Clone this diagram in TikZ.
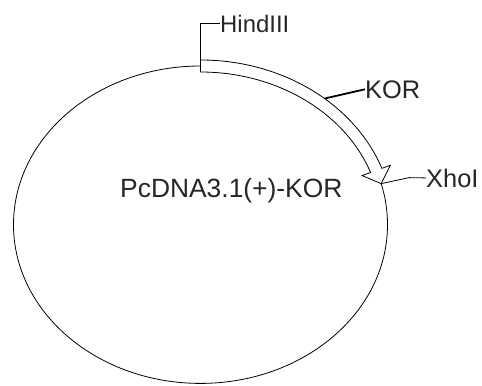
\documentclass[tikz,border=0pt]{standalone}
\usepackage{fontspec}
\setmainfont{Liberation Sans}

\begin{document}
\begin{tikzpicture}[x=1bp,y=1bp,
  sitelabel/.style={font=\fontsize{25.5}{30}\selectfont,text=black!85,inner sep=0pt},
  ring/.style={black,line width=0.8bp}]

\useasboundingbox (0,0) rectangle (482,385);

\begin{scope}[shift={(200.5,160.3)}]
%draw plasmid ring
\draw[ring] (0,0) ellipse [x radius=187,y radius=158.7];

%draw KOR insert arrow
\filldraw[ring,fill=white] (90:193 and 164.7)
  arc[start angle=90,end angle=20,x radius=193,y radius=164.7]
  -- (20:202 and 173.7) -- (15:187 and 158.7) coordinate (tip)
  -- (20:172 and 143.7) -- (20:181 and 152.7)
  arc[start angle=20,end angle=90,x radius=181,y radius=152.7] coordinate (hind)
  -- cycle;
\coordinate (korpt) at (50:193 and 164.7);
\end{scope}

%label figure
\node[sitelabel,font=\fontsize{26.5}{30}\selectfont,anchor=base west] (name) at (120,188) {PcDNA3.1(+)-KOR};
\node[sitelabel,font=\fontsize{24}{30}\selectfont,anchor=base west] (hindiii) at (220,353) {HindIII};
\node[sitelabel,anchor=base west] (kor) at (365,287) {KOR};
\node[sitelabel,anchor=base west] (xhoi) at (426,198) {XhoI};

%draw site markers
\draw[ring] (hind) |- (hindiii.west);
\draw[black,line width=1.8bp] (korpt) -- (kor.west);
\draw[ring] (tip) -- ++(28,6) -- (xhoi.west);

\end{tikzpicture}
\end{document}
